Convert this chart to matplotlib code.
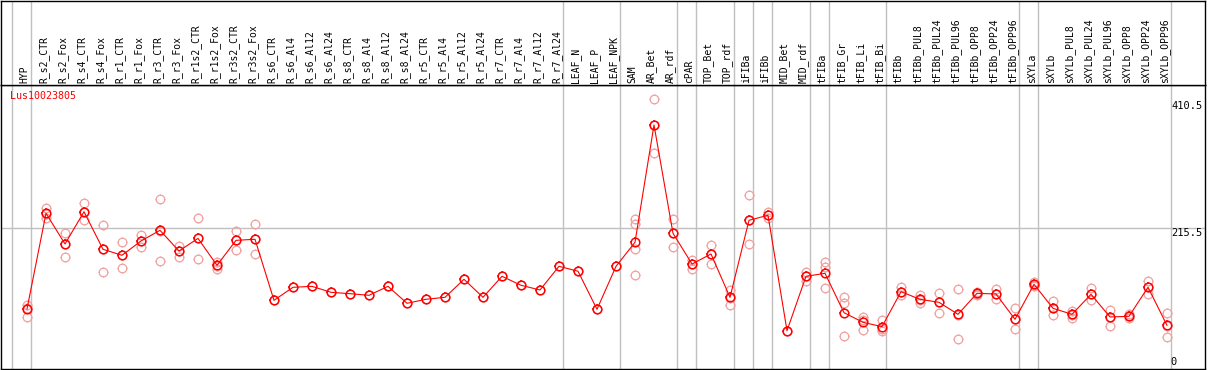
import numpy as np
import matplotlib
matplotlib.use('Agg')
import matplotlib.pyplot as plt
from matplotlib.path import Path

samples = ['HYP', 'R_s2_CTR', 'R_s2_Fox', 'R_s4_CTR', 'R_s4_Fox', 'R_r1_CTR', 'R_r1_Fox',
           'R_r3_CTR', 'R_r3_Fox', 'R_r1s2_CTR', 'R_r1s2_Fox', 'R_r3s2_CTR', 'R_r3s2_Fox',
           'R_s6_CTR', 'R_s6_Al4', 'R_s6_Al12', 'R_s6_Al24', 'R_s8_CTR', 'R_s8_Al4',
           'R_s8_Al12', 'R_s8_Al24', 'R_r5_CTR', 'R_r5_Al4', 'R_r5_Al12', 'R_r5_Al24',
           'R_r7_CTR', 'R_r7_Al4', 'R_r7_Al12', 'R_r7_Al24', 'LEAF_N', 'LEAF_P', 'LEAF_NPK',
           'SAM', 'AR_Bet', 'AR_rdf', 'cPAR', 'TOP_Bet', 'TOP_rdf', 'iFIBa', 'iFIBb',
           'MID_Bet', 'MID_rdf', 'tFIBa', 'tFIB_Gr', 'tFIB_Li', 'tFIB_Bi', 'tFIBb',
           'tFIBb_PUL8', 'tFIBb_PUL24', 'tFIBb_PUL96', 'tFIBb_OPP8', 'tFIBb_OPP24',
           'tFIBb_OPP96', 'sXYLa', 'sXYLb', 'sXYLb_PUL8', 'sXYLb_PUL24', 'sXYLb_PUL96',
           'sXYLb_OPP8', 'sXYLb_OPP24', 'sXYLb_OPP96']

means = [91.5, 238.5, 191.4, 241, 183.2, 174, 196, 212.4, 180.6, 200, 158.6, 197, 198.6,
         104.8, 124.8, 126.3, 117.1, 115, 112.5, 126.3, 100.2, 106.4, 109.4, 137.1, 109.4,
         141.7, 127.9, 120.7, 157.1, 149.5,
         91, 157, 194, 374.3, 207.8, 160.6, 176, 109.4, 227.8, 235.5,
         58.1, 141.7, 146.3, 85.8, 71, 64.3, 118, 106.4, 101.7, 83.3,
         115.6, 114.5, 75.6, 129.4, 92.5, 83.3, 114, 79.2, 80.2, 124.8, 66.4]

# replicate values (samples without visible replicates just repeat the mean)
reps = [[97, 93, 79], [246, 238, 232], [209, 192, 172], [254, 241, 229], [220, 183, 148],
        [194, 174, 155], [205, 196, 186], [260, 212, 165], [189, 181, 172], [231, 200, 169],
        [164, 158, 153], [212, 197, 182], [222, 199, 176]]
reps += [[m] for m in means[13:32]]
reps += [[230, 222, 183, 143], [415, 374, 331], [230, 208, 186], [167, 161, 153],
         [190, 176, 161], [121, 109, 97], [266, 228, 191], [240, 236, 232], [58],
         [148, 142, 135], [163, 156, 123], [110, 100, 50], [79, 75, 59], [75, 60, 58],
         [125, 118, 113], [113, 106, 101], [116, 102, 86], [122, 83, 46], [118, 115, 113],
         [122, 115, 107], [93, 76, 60], [133, 129, 127], [104, 93, 83], [88, 83, 78],
         [124, 114, 105], [90, 79, 66], [84, 80, 77], [135, 125, 115], [86, 66, 48]]

# group separators sit just before these sample indices
group_starts = [0, 1, 29, 32, 35, 36, 38, 39, 40, 42, 43, 46, 53, 54, 61]
ytick_vals = [410.5, 215.5]
gene = 'Lus10023805'

# four little ticks around the circle markers
tk = 1.25
tick_verts = [(0, 1), (0, tk), (0, -1), (0, -tk), (1, 0), (tk, 0), (-1, 0), (-tk, 0)]
tick_codes = [Path.MOVETO, Path.LINETO] * 4
ticks = Path(tick_verts, tick_codes)

W, H = 1209, 370
fig = plt.figure(figsize=(W / 100, H / 100), dpi=100)
mono = 'DejaVu Sans Mono'

x = np.arange(len(samples))
px = 19.0
xmin = -26 / px
xmax = xmin + 1204 / px

ax = fig.add_axes([1 / W, 1.5 / H, 1204 / W, 283.5 / H])
ax_top = fig.add_axes([1 / W, 285 / H, 1204 / W, 84.5 / H])

for a in (ax, ax_top):
    a.set_xlim(xmin, xmax)
    a.set_xticks([])
    a.set_yticks([])
    for s in a.spines.values():
        s.set_color('black')
        s.set_linewidth(1.0)
    for g in group_starts:
        a.axvline(g - 0.81, color='#c0c0c0', lw=1.0, zorder=0)

ax.set_ylim(0, 283.5 / 0.6506)
ax_top.set_ylim(0, 1)

ax.axhline(215.5, color='#c0c0c0', lw=1.0, zorder=0)

msz = 6.2


def draw_pts(xs, ys, col, ew, z):
    ax.plot(xs, ys, linestyle='none', marker='o', markersize=msz, markerfacecolor='none',
            markeredgecolor=col, markeredgewidth=ew, zorder=z)
    ax.plot(xs, ys, linestyle='none', marker=ticks, markersize=msz * tk, markerfacecolor='none',
            markeredgecolor=col, markeredgewidth=ew, zorder=z)


for i, r in enumerate(reps):
    draw_pts([i] * len(r), r, '#f0a0a0', 0.9, 2)

ax.plot(x, means, color='red', lw=0.8, zorder=3)
draw_pts(x, means, 'red', 1.1, 4)

for i, name in enumerate(samples):
    ax_top.text(i - 0.13, 0.025, name, rotation=90, ha='center', va='bottom',
                fontsize=7, family=mono, color='black')

ax.text(9 / 1204, 1 - 6 / 283.5, gene, transform=ax.transAxes, ha='left', va='top',
        fontsize=7.2, family=mono, color='red')

for v in ytick_vals:
    ax.text(1 - 2 / 1204, v, str(v), ha='right', va='top', fontsize=7.5, family=mono,
            transform=ax.get_yaxis_transform())
ax.text(1 - 28 / 1204, 3, '0', ha='right', va='bottom', fontsize=7.5, family=mono,
        transform=ax.get_yaxis_transform())

plt.savefig('out.png', dpi=100)
